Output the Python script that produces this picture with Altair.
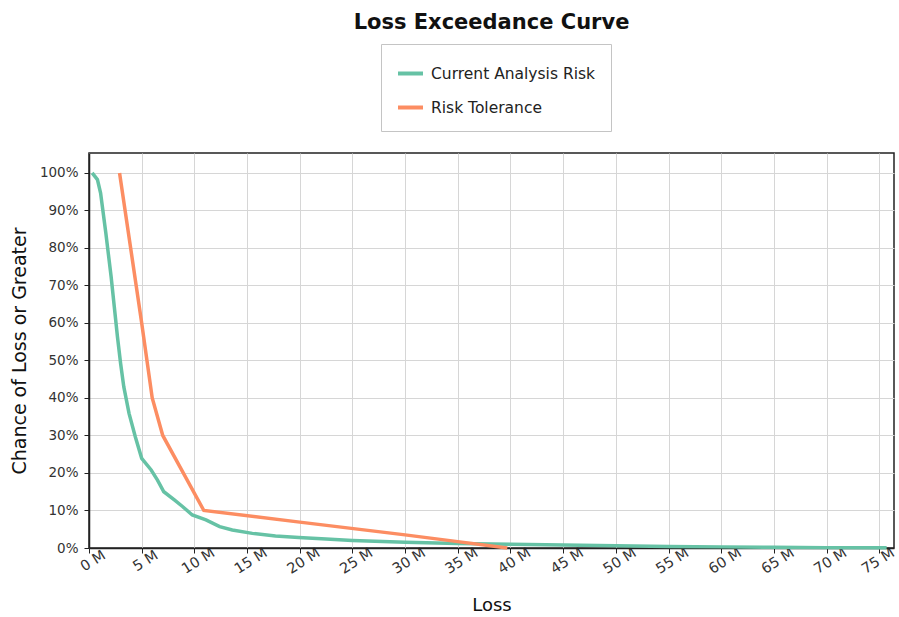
import altair as alt
import pandas as pd

# Current Analysis Risk (loss in millions, exceedance probability)
cur_loss = [0.3, 0.8, 1.1, 1.6, 2.1, 2.4, 2.7, 3.0, 3.3, 3.8, 4.4, 5.0, 5.9, 6.5, 7.1,
            8.1, 8.9, 9.8, 11.1, 12.4, 13.6, 15.5, 17.7, 19.9, 22.5, 25, 30, 35, 40,
            45, 50, 55, 60, 65, 70, 75.7]
cur_prob = [1.0, 0.982, 0.946, 0.839, 0.723, 0.643, 0.563, 0.492, 0.43, 0.359, 0.296,
            0.239, 0.208, 0.181, 0.15, 0.128, 0.11, 0.088, 0.075, 0.057, 0.048, 0.039,
            0.032, 0.028, 0.024, 0.02, 0.015, 0.012, 0.01, 0.008, 0.006, 0.004, 0.003,
            0.002, 0.001, 0.0005]

# Risk Tolerance
tol_loss = [2.9, 5.0, 6.0, 7.0, 10.9, 20, 30, 35, 39.7]
tol_prob = [1.0, 0.6, 0.4, 0.3, 0.1, 0.069, 0.035, 0.017, 0.0]

series_names = ["Current Analysis Risk", "Risk Tolerance"]
series_colors = ["#66c2a5", "#fc8d62"]
y_ticks = [0, 0.1, 0.2, 0.3, 0.4, 0.5, 0.6, 0.7, 0.8, 0.9, 1.0]
x_ticks = list(range(0, 80, 5))

df = pd.concat([
    pd.DataFrame({"loss": cur_loss, "prob": cur_prob, "series": series_names[0], "order": range(len(cur_loss))}),
    pd.DataFrame({"loss": tol_loss, "prob": tol_prob, "series": series_names[1], "order": range(len(tol_loss))}),
])

FONT = "DejaVu Sans"

chart = alt.Chart(df).mark_line(strokeWidth=3.5).encode(
    x=alt.X("loss:Q", title="Loss",
            scale=alt.Scale(domain=[0, 76.4], nice=False, zero=False),
            axis=alt.Axis(values=x_ticks, labelExpr="datum.value + ' M'", labelAngle=-32,
                          labelAlign="center", labelBaseline="top", labelPadding=2,
                          labelOffset={"condition": {"test": "datum.value >= 75", "value": -5},
                                       "value": 0},
                          labelFontSize=14.5, titleFontSize=18, titleFontWeight="normal",
                          titlePadding=21)),
    y=alt.Y("prob:Q", title="Chance of Loss or Greater",
            scale=alt.Scale(domain=[0, 1.053], nice=False),
            axis=alt.Axis(values=y_ticks, format=".0%", labelFontSize=13.5, labelPadding=6,
                          titleFontSize=19, titleFontWeight="normal", titlePadding=10)),
    color=alt.Color("series:N", title=None,
                    scale=alt.Scale(domain=series_names, range=series_colors),
                    legend=alt.Legend(orient="none", legendX=292, legendY=-109,
                                      symbolType="stroke", symbolStrokeWidth=4, symbolSize=625,
                                      labelFontSize=15.5, labelLimit=400, rowPadding=11, padding=15,
                                      strokeColor="#c4c4c4", fillColor="white",
                                      labelColor="#222222", labelOffset=6)),
    order="order:Q",
).properties(
    width=805, height=395,
    title=alt.TitleParams("Loss Exceedance Curve", fontSize=21, fontWeight="bold",
                          anchor="middle", offset=14, dy=20, baseline="alphabetic",
                          font=FONT, color="#111111"),
    autosize=alt.AutoSizeParams(type="none"),
    padding={"left": 89, "top": 153, "right": 5, "bottom": 69},
).configure(
    font=FONT,
    background="white",
).configure_view(
    stroke="#222222", strokeWidth=1.5,
).configure_axis(
    gridColor="#d6d6d6", gridWidth=1, domainColor="#222222", domainWidth=1.5,
    tickColor="#222222", tickSize=5, labelColor="#333333", titleColor="#111111",
    labelFont=FONT, titleFont=FONT,
).configure_legend(
    labelFont=FONT,
)

chart.save("out.html", embed_options={"renderer": "svg", "actions": False})
